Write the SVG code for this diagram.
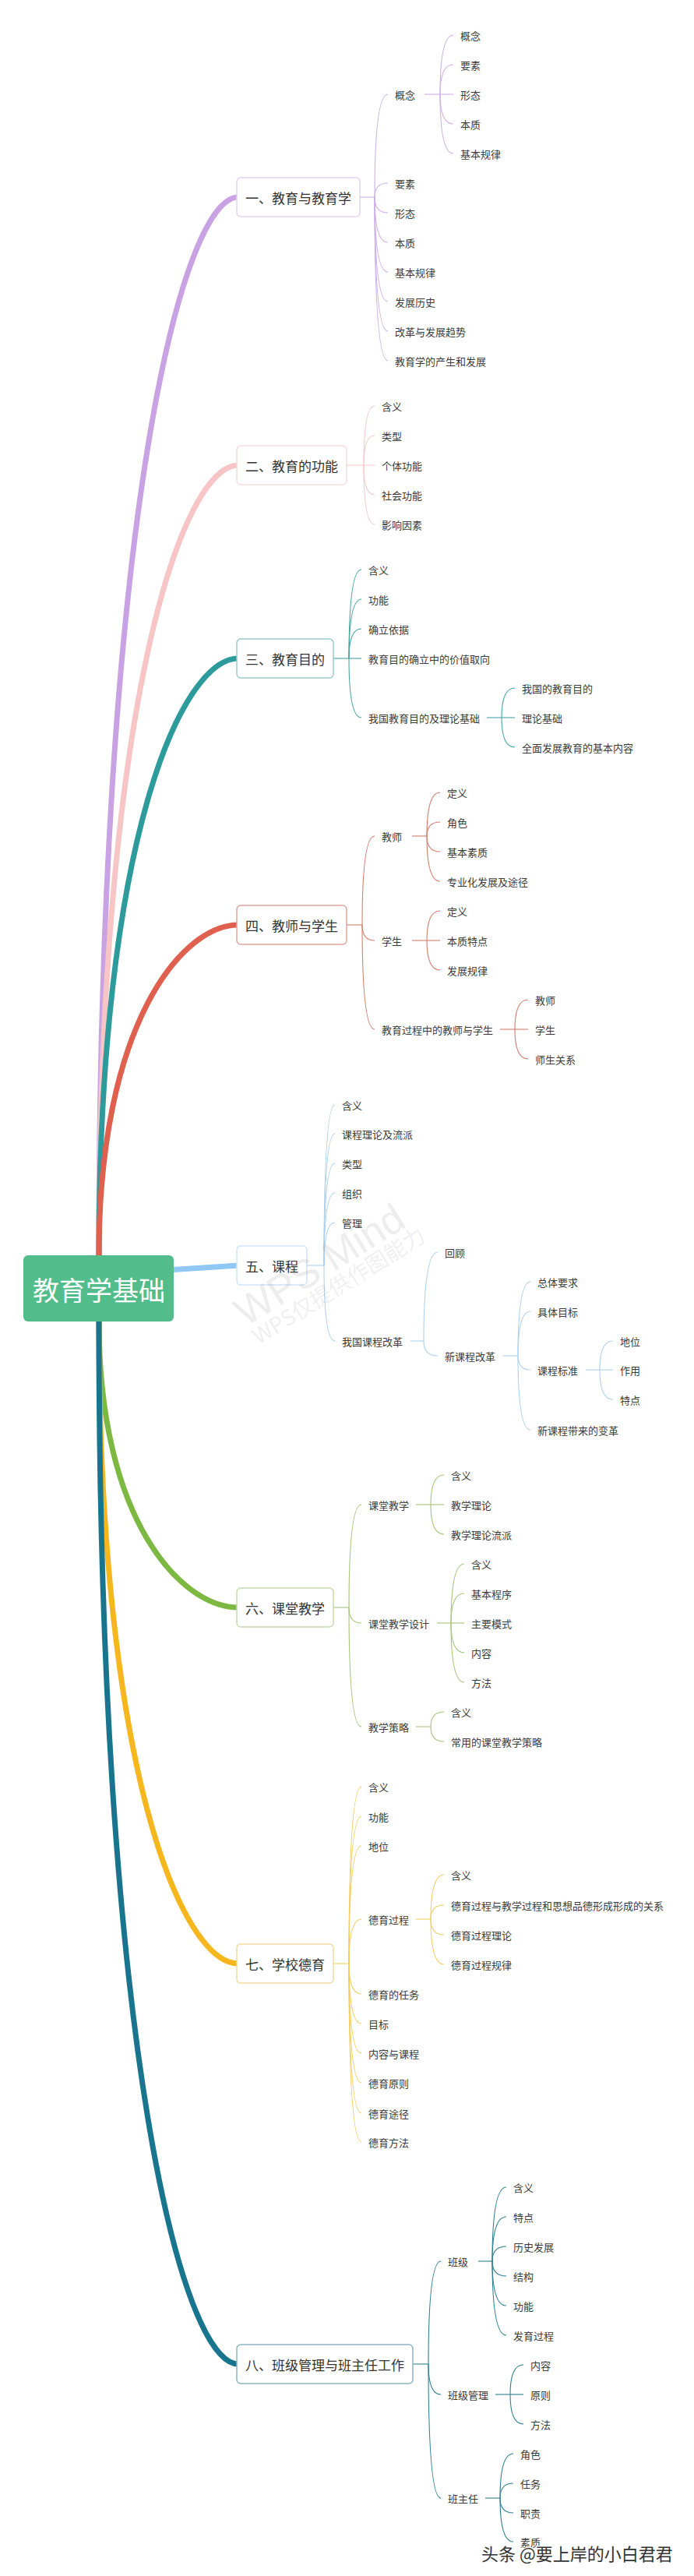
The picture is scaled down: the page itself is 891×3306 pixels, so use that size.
<svg xmlns="http://www.w3.org/2000/svg" width="891" height="3306" viewBox="0 0 891 3306">
<style>
text{font-family:"Noto Sans CJK SC","Liberation Sans",sans-serif;dominant-baseline:central;fill:#3a3a3a}
.t{font-size:13px}
.h{font-size:17px;fill:#333}
.root{font-size:34px;fill:#fff;text-anchor:middle}
.box{fill:#fff;stroke-width:1.5}
.br{fill:none;stroke-width:7;stroke-linecap:round}
.c{fill:none;stroke-width:1.1}
.p1{stroke:#C9A2E3}.s1{stroke:#CDB0E6}.b1{stroke:#E3D3EE}
.p2{stroke:#F7C5C5}.s2{stroke:#F2CACA}.b2{stroke:#F4DEDE}
.p3{stroke:#2D9B9C}.s3{stroke:#4AA3A5}.b3{stroke:#9CCACA}
.p4{stroke:#E0604F}.s4{stroke:#D27D6E}.b4{stroke:#DDA59C}
.p5{stroke:#8FC7F6}.s5{stroke:#ADD0EC}.b5{stroke:#D0E4F4}
.p6{stroke:#7DB942}.s6{stroke:#A5C57A}.b6{stroke:#C6DBAE}
.p7{stroke:#F6B71E}.s7{stroke:#F2CE63}.b7{stroke:#F2DCA2}
.p8{stroke:#18758D}.s8{stroke:#2F7F90}.b8{stroke:#8DB5BF}
.wm{fill:#888;fill-opacity:0.15}
</style>
<g id="connectors">
<path class="br p1" d="M127 1611 C127 660 234 253 306 253"/>
<path class="br p2" d="M127 1611 C127 901 234 597 306 597"/>
<path class="br p3" d="M127 1611 C127 1075 234 845 306 845"/>
<path class="br p4" d="M127 1611 C127 1314 234 1187 306 1187"/>
<path class="br p5" d="M200 1631 L306 1624"/>
<path class="br p6" d="M127 1696 C127 1953 234 2063 306 2063"/>
<path class="br p7" d="M127 1696 C127 2273 234 2520 306 2520"/>
<path class="br p8" d="M127 1696 C127 2633 234 3034 306 3034"/>
<g class="c s1">
<path d="M462 253H481"/>
<path d="M481 253Q481 121 498 121"/><path d="M481 253Q481 235 498 235"/><path d="M481 253Q481 273 498 273"/><path d="M481 253Q481 311 498 311"/><path d="M481 253Q481 349 498 349"/><path d="M481 253Q481 387 498 387"/><path d="M481 253Q481 425 498 425"/><path d="M481 253Q481 463 498 463"/>
<path d="M545 121H565"/>
<path d="M565 121Q565 45 582 45"/><path d="M565 121Q565 83 582 83"/><path d="M565 121H582"/><path d="M565 121Q565 159 582 159"/><path d="M565 121Q565 197 582 197"/>
</g>
<g class="c s2">
<path d="M445 597H467"/>
<path d="M467 597Q467 521 481 521"/><path d="M467 597Q467 559 481 559"/><path d="M467 597H481"/><path d="M467 597Q467 635 481 635"/><path d="M467 597Q467 673 481 673"/>
</g>
<g class="c s3">
<path d="M428 845H448"/>
<path d="M448 845Q448 731 464 731"/><path d="M448 845Q448 769 464 769"/><path d="M448 845Q448 807 464 807"/><path d="M448 845H464"/><path d="M448 845Q448 921 464 921"/>
<path d="M625 921H644"/>
<path d="M644 921Q644 883 661 883"/><path d="M644 921H661"/><path d="M644 921Q644 959 661 959"/>
</g>
<g class="c s4">
<path d="M445 1187H465"/>
<path d="M465 1187Q465 1073 481 1073"/><path d="M465 1187Q465 1207 481 1207"/><path d="M465 1187Q465 1321 481 1321"/>
<path d="M529 1073H548"/>
<path d="M548 1073Q548 1017 565 1017"/><path d="M548 1073Q548 1055 565 1055"/><path d="M548 1073Q548 1093 565 1093"/><path d="M548 1073Q548 1131 565 1131"/>
<path d="M529 1207H548"/>
<path d="M548 1207Q548 1169 565 1169"/><path d="M548 1207H565"/><path d="M548 1207Q548 1245 565 1245"/>
<path d="M642 1321H661"/>
<path d="M661 1321Q661 1283 678 1283"/><path d="M661 1321H678"/><path d="M661 1321Q661 1359 678 1359"/>
</g>
<g class="c s5">
<path d="M394 1624H416"/>
<path d="M416 1624Q416 1418 430 1418"/><path d="M416 1624Q416 1455 430 1455"/><path d="M416 1624Q416 1493 430 1493"/><path d="M416 1624Q416 1531 430 1531"/><path d="M416 1624Q416 1569 430 1569"/><path d="M416 1624Q416 1721 430 1721"/>
<path d="M527 1721H544"/>
<path d="M544 1721Q544 1607 562 1607"/><path d="M544 1721Q544 1740 562 1740"/>
<path d="M646 1740H665"/>
<path d="M665 1740Q665 1645 681 1645"/><path d="M665 1740Q665 1683 681 1683"/><path d="M665 1740Q665 1758 681 1758"/><path d="M665 1740Q665 1835 681 1835"/>
<path d="M752 1758H770"/>
<path d="M770 1758Q770 1721 787 1721"/><path d="M770 1758H787"/><path d="M770 1758Q770 1796 787 1796"/>
</g>
<g class="c s6">
<path d="M428 2063H448"/>
<path d="M448 2063Q448 1931 464 1931"/><path d="M448 2063Q448 2083 464 2083"/><path d="M448 2063Q448 2216 464 2216"/>
<path d="M534 1931H553"/>
<path d="M553 1931Q553 1893 570 1893"/><path d="M553 1931H570"/><path d="M553 1931Q553 1969 570 1969"/>
<path d="M561 2083H579"/>
<path d="M579 2083Q579 2007 596 2007"/><path d="M579 2083Q579 2045 596 2045"/><path d="M579 2083H596"/><path d="M579 2083Q579 2121 596 2121"/><path d="M579 2083Q579 2159 596 2159"/>
<path d="M534 2216H553"/>
<path d="M553 2216Q553 2197 570 2197"/><path d="M553 2216Q553 2235 570 2235"/>
</g>
<g class="c s7">
<path d="M428 2520H448"/>
<path d="M448 2520Q448 2293 464 2293"/><path d="M448 2520Q448 2331 464 2331"/><path d="M448 2520Q448 2369 464 2369"/><path d="M448 2520Q448 2463 464 2463"/><path d="M448 2520Q448 2559 464 2559"/><path d="M448 2520Q448 2597 464 2597"/><path d="M448 2520Q448 2635 464 2635"/><path d="M448 2520Q448 2673 464 2673"/><path d="M448 2520Q448 2712 464 2712"/><path d="M448 2520Q448 2749 464 2749"/>
<path d="M534 2463H553"/>
<path d="M553 2463Q553 2406 570 2406"/><path d="M553 2463Q553 2445 570 2445"/><path d="M553 2463Q553 2483 570 2483"/><path d="M553 2463Q553 2521 570 2521"/>
</g>
<g class="c s8">
<path d="M530 3034H550"/>
<path d="M550 3034Q550 2902 566 2902"/><path d="M550 3034Q550 3073 566 3073"/><path d="M550 3034Q550 3206 566 3206"/>
<path d="M614 2902H632"/>
<path d="M632 2902Q632 2807 650 2807"/><path d="M632 2902Q632 2845 650 2845"/><path d="M632 2902Q632 2883 650 2883"/><path d="M632 2902Q632 2921 650 2921"/><path d="M632 2902Q632 2959 650 2959"/><path d="M632 2902Q632 2997 650 2997"/>
<path d="M636 3073H655"/>
<path d="M655 3073Q655 3035 672 3035"/><path d="M655 3073H672"/><path d="M655 3073Q655 3111 672 3111"/>
<path d="M623 3206H642"/>
<path d="M642 3206Q642 3149 659 3149"/><path d="M642 3206Q642 3187 659 3187"/><path d="M642 3206Q642 3225 659 3225"/><path d="M642 3206Q642 3262 659 3262"/>
</g>
</g>

<g id="root">
<rect x="30" y="1611" width="193" height="85" rx="6" fill="#52BD8A"/>
<text class="root" x="127" y="1654">教育学基础</text>
</g>

<g id="n1">
<rect class="box b1" x="304" y="228" width="158" height="50" rx="5"/>
<text class="h" x="315" y="253">一、教育与教育学</text>
<g class="t">
<text x="507" y="121">概念</text><text x="507" y="235">要素</text><text x="507" y="273">形态</text><text x="507" y="311">本质</text><text x="507" y="349">基本规律</text><text x="507" y="387">发展历史</text><text x="507" y="425">改革与发展趋势</text><text x="507" y="463">教育学的产生和发展</text>
<text x="591" y="45">概念</text><text x="591" y="83">要素</text><text x="591" y="121">形态</text><text x="591" y="159">本质</text><text x="591" y="197">基本规律</text>
</g>
</g>

<g id="n2">
<rect class="box b2" x="304" y="572" width="141" height="50" rx="5"/>
<text class="h" x="315" y="597">二、教育的功能</text>
<g class="t">
<text x="490" y="521">含义</text><text x="490" y="559">类型</text><text x="490" y="597">个体功能</text><text x="490" y="635">社会功能</text><text x="490" y="673">影响因素</text>
</g>
</g>

<g id="n3">
<rect class="box b3" x="304" y="820" width="124" height="50" rx="5"/>
<text class="h" x="315" y="845">三、教育目的</text>
<g class="t">
<text x="473" y="731">含义</text><text x="473" y="769">功能</text><text x="473" y="807">确立依据</text><text x="473" y="845">教育目的确立中的价值取向</text><text x="473" y="921">我国教育目的及理论基础</text>
<text x="670" y="883">我国的教育目的</text><text x="670" y="921">理论基础</text><text x="670" y="959">全面发展教育的基本内容</text>
</g>
</g>

<g id="n4">
<rect class="box b4" x="304" y="1162" width="141" height="50" rx="5"/>
<text class="h" x="315" y="1187">四、教师与学生</text>
<g class="t">
<text x="490" y="1073">教师</text><text x="490" y="1207">学生</text><text x="490" y="1321">教育过程中的教师与学生</text>
<text x="574" y="1017">定义</text><text x="574" y="1055">角色</text><text x="574" y="1093">基本素质</text><text x="574" y="1131">专业化发展及途径</text>
<text x="574" y="1169">定义</text><text x="574" y="1207">本质特点</text><text x="574" y="1245">发展规律</text>
<text x="687" y="1283">教师</text><text x="687" y="1321">学生</text><text x="687" y="1359">师生关系</text>
</g>
</g>

<g id="n5">
<rect class="box b5" x="304" y="1599" width="90" height="50" rx="5"/>
<text class="h" x="315" y="1624">五、课程</text>
<g class="t">
<text x="439" y="1418">含义</text><text x="439" y="1455">课程理论及流派</text><text x="439" y="1493">类型</text><text x="439" y="1531">组织</text><text x="439" y="1569">管理</text><text x="439" y="1721">我国课程改革</text>
<text x="571" y="1607">回顾</text><text x="571" y="1740">新课程改革</text>
<text x="690" y="1645">总体要求</text><text x="690" y="1683">具体目标</text><text x="690" y="1758">课程标准</text><text x="690" y="1835">新课程带来的变革</text>
<text x="796" y="1721">地位</text><text x="796" y="1758">作用</text><text x="796" y="1796">特点</text>
</g>
</g>

<g id="n6">
<rect class="box b6" x="304" y="2038" width="124" height="50" rx="5"/>
<text class="h" x="315" y="2063">六、课堂教学</text>
<g class="t">
<text x="473" y="1931">课堂教学</text><text x="473" y="2083">课堂教学设计</text><text x="473" y="2216">教学策略</text>
<text x="579" y="1893">含义</text><text x="579" y="1931">教学理论</text><text x="579" y="1969">教学理论流派</text>
<text x="605" y="2007">含义</text><text x="605" y="2045">基本程序</text><text x="605" y="2083">主要模式</text><text x="605" y="2121">内容</text><text x="605" y="2159">方法</text>
<text x="579" y="2197">含义</text><text x="579" y="2235">常用的课堂教学策略</text>
</g>
</g>

<g id="n7">
<rect class="box b7" x="304" y="2495" width="124" height="50" rx="5"/>
<text class="h" x="315" y="2520">七、学校德育</text>
<g class="t">
<text x="473" y="2293">含义</text><text x="473" y="2331">功能</text><text x="473" y="2369">地位</text><text x="473" y="2463">德育过程</text><text x="473" y="2559">德育的任务</text><text x="473" y="2597">目标</text><text x="473" y="2635">内容与课程</text><text x="473" y="2673">德育原则</text><text x="473" y="2712">德育途径</text><text x="473" y="2749">德育方法</text>
<text x="579" y="2406">含义</text><text x="579" y="2445">德育过程与教学过程和思想品德形成形成的关系</text><text x="579" y="2483">德育过程理论</text><text x="579" y="2521">德育过程规律</text>
</g>
</g>

<g id="n8">
<rect class="box b8" x="304" y="3009" width="226" height="50" rx="5"/>
<text class="h" x="315" y="3034">八、班级管理与班主任工作</text>
<g class="t">
<text x="575" y="2902">班级</text><text x="575" y="3073">班级管理</text><text x="575" y="3206">班主任</text>
<text x="659" y="2807">含义</text><text x="659" y="2845">特点</text><text x="659" y="2883">历史发展</text><text x="659" y="2921">结构</text><text x="659" y="2959">功能</text><text x="659" y="2997">发育过程</text>
<text x="681" y="3035">内容</text><text x="681" y="3073">原则</text><text x="681" y="3111">方法</text>
<text x="668" y="3149">角色</text><text x="668" y="3187">任务</text><text x="668" y="3225">职责</text><text x="668" y="3262">素质</text>
</g>
</g>

<g id="watermarks">
<text class="wm" transform="translate(306,1688) rotate(-32)" style="font-size:52px;font-family:'Liberation Sans',sans-serif">WPS Mind</text>
<text class="wm" transform="translate(326,1716) rotate(-32)" style="font-size:28px">WPS仅提供作图能力</text>
<text x="618" y="3276" style="font-size:22px;fill:#333;stroke:#fff;stroke-width:3;paint-order:stroke">头条 @要上岸的小白君君</text>
</g>
</svg>
